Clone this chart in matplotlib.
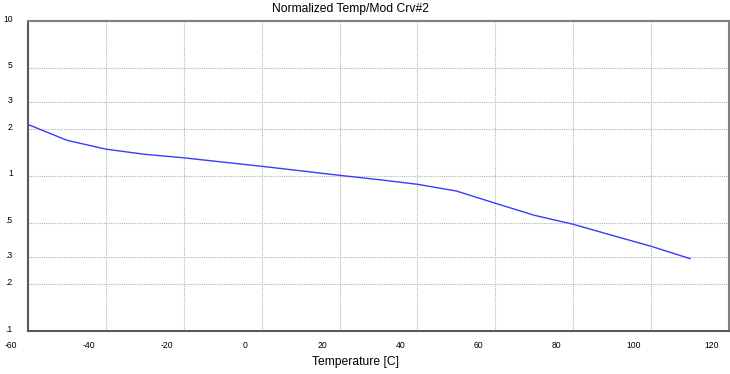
import numpy as np
import matplotlib
matplotlib.use('Agg')
import matplotlib.pyplot as plt
import matplotlib.transforms as mtransforms

# curve data
temps = [-60, -50, -40, -30, -20, -10, 0, 10, 20, 30, 40, 50, 60, 70, 80, 90, 100, 110]
values = [2.15, 1.70, 1.49, 1.38, 1.31, 1.23, 1.155, 1.08, 1.01, 0.948, 0.884, 0.80,
          0.667, 0.558, 0.488, 0.414, 0.352, 0.293]

x_ticks = [-60, -40, -20, 0, 20, 40, 60, 80, 100, 120]
y_ticks = [0.1, 0.2, 0.3, 0.5, 1, 2, 3, 5, 10]
y_labels = ['.1', '.2', '.3', '.5', '1', '2', '3', '5', '10']

plt.rcParams['font.family'] = ['Liberation Sans', 'DejaVu Sans']

fig = plt.figure(figsize=(7.3, 3.74), dpi=100)
ax = fig.add_axes([28 / 730, 1 - 331 / 374, 701 / 730, 310 / 374])

ax.plot(temps, values, color='#3a3aff', lw=1.0)

ax.set_yscale('log')
ax.set_xlim(-60, 120)
ax.set_ylim(0.1, 10)

ax.set_xticks(x_ticks)
ax.set_xticklabels([str(t) for t in x_ticks])
ax.set_yticks(y_ticks)
ax.set_yticklabels(y_labels)
ax.yaxis.set_minor_locator(matplotlib.ticker.NullLocator())

ax.tick_params(axis='both', length=0, labelsize=6.2, colors='#000000')
ax.tick_params(axis='x', pad=7)
ax.tick_params(axis='y', pad=11)

# the original software draws the x labels shifted left of the grid lines
off_x = mtransforms.ScaledTranslation(-17 / 100, 0, fig.dpi_scale_trans)
for lab in ax.get_xticklabels():
    lab.set_transform(lab.get_transform() + off_x)
off_y = mtransforms.ScaledTranslation(0, 3 / 100, fig.dpi_scale_trans)
for lab in ax.get_yticklabels():
    lab.set_transform(lab.get_transform() + off_y)

ax.grid(True, which='major', color='#b4b4b4', lw=0.8, linestyle=(0, (1, 1)))

for side in ['left', 'bottom', 'top', 'right']:
    ax.spines[side].set_color('#5a5a5a')
    ax.spines[side].set_linewidth(1.5)
ax.spines['top'].set_color('#808080')
ax.spines['right'].set_color('#808080')

fig.text(350 / 730, 1 - 9 / 374, 'Normalized Temp/Mod Crv#2', ha='center', va='center', fontsize=8.7)
fig.text(355 / 730, 1 - 362 / 374, 'Temperature [C]', ha='center', va='center', fontsize=8.7)

fig.savefig('out.png', dpi=100)
